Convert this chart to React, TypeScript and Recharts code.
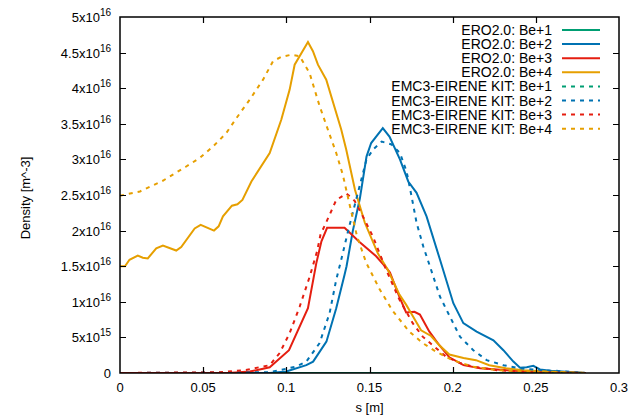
import React from 'react';
import { LineChart, Line, XAxis, YAxis, Customized } from 'recharts';

document.body.style.margin = '0';

// s [m] on x, density in units of 1e16 m^-3 on y
const sTicks = [0, 0.05, 0.1, 0.15, 0.2, 0.25, 0.3];
const densityTicks = [0, 0.5, 1, 1.5, 2, 2.5, 3, 3.5, 4, 4.5, 5];

const ero1S = [0, 0.05, 0.1, 0.15, 0.2, 0.25, 0.28];
const ero1N = [0, 0, 0, 0, 0, 0, 0];

const ero2S = [0, 0.09, 0.1, 0.112, 0.1161, 0.1241, 0.13, 0.135, 0.1362, 0.14, 0.1442, 0.1482, 0.151, 0.158, 0.162, 0.1683, 0.1733, 0.1783, 0.1843, 0.1924, 0.2004, 0.2064, 0.2144, 0.2245, 0.2305, 0.2365, 0.2405, 0.2445, 0.2485, 0.2525, 0.2586, 0.28];
const ero2N = [0, 0, 0.02, 0.11, 0.16, 0.44, 0.91, 1.38, 1.5, 2.0, 2.45, 3.04, 3.23, 3.44, 3.32, 3.0, 2.69, 2.53, 2.2, 1.59, 0.98, 0.7, 0.58, 0.46, 0.32, 0.16, 0.075, 0.08, 0.1, 0.05, 0.03, 0];

const ero3S = [0, 0.065, 0.078, 0.09, 0.1016, 0.113, 0.118, 0.1211, 0.1245, 0.135, 0.144, 0.154, 0.16, 0.1623, 0.168, 0.172, 0.177, 0.1803, 0.186, 0.192, 0.198, 0.2065, 0.2165, 0.2365, 0.26, 0.28];
const ero3N = [0, 0, 0.02, 0.08, 0.32, 0.91, 1.54, 1.85, 2.04, 2.04, 1.84, 1.64, 1.48, 1.41, 1.07, 0.85, 0.86, 0.82, 0.58, 0.39, 0.22, 0.11, 0.066, 0.03, 0.01, 0];

const ero4S = [0, 0.003, 0.0057, 0.0107, 0.0137, 0.0167, 0.0218, 0.0258, 0.0338, 0.0368, 0.0449, 0.0485, 0.0565, 0.0593, 0.0619, 0.0673, 0.0706, 0.0736, 0.079, 0.09, 0.097, 0.102, 0.105, 0.113, 0.116, 0.119, 0.124, 0.133, 0.136, 0.1413, 0.1472, 0.155, 0.161, 0.168, 0.172, 0.176, 0.181, 0.187, 0.192, 0.198, 0.2065, 0.214, 0.222, 0.232, 0.2425, 0.2566, 0.28];
const ero4N = [1.5, 1.5, 1.59, 1.65, 1.62, 1.61, 1.75, 1.79, 1.72, 1.77, 2.03, 2.08, 2.0, 2.06, 2.2, 2.35, 2.37, 2.43, 2.69, 3.09, 3.56, 3.98, 4.33, 4.65, 4.52, 4.33, 4.12, 3.42, 3.14, 2.57, 2.11, 1.68, 1.45, 1.1, 0.96, 0.8, 0.6, 0.52, 0.39, 0.26, 0.21, 0.18, 0.11, 0.066, 0.04, 0.02, 0];

const emc1S = [0, 0.05, 0.1, 0.15, 0.2, 0.25, 0.28];
const emc1N = [0, 0, 0, 0, 0, 0, 0];

const emc2S = [0, 0.09, 0.106, 0.112, 0.12, 0.126, 0.13, 0.1331, 0.1372, 0.1407, 0.1482, 0.1522, 0.1573, 0.1633, 0.1683, 0.1723, 0.1753, 0.1783, 0.1823, 0.1863, 0.1924, 0.1984, 0.2044, 0.2124, 0.2205, 0.2305, 0.2405, 0.2525, 0.2625, 0.28];
const emc2N = [0, 0.01, 0.09, 0.16, 0.42, 0.84, 1.31, 1.6, 2.0, 2.32, 3.0, 3.14, 3.25, 3.21, 3.09, 2.83, 2.48, 2.11, 1.78, 1.5, 1.07, 0.79, 0.51, 0.32, 0.18, 0.11, 0.066, 0.04, 0.03, 0];

const emc3S = [0, 0.06, 0.075, 0.09, 0.096, 0.102, 0.108, 0.114, 0.1185, 0.1205, 0.126, 0.13, 0.1362, 0.141, 0.146, 0.152, 0.16, 0.168, 0.176, 0.182, 0.188, 0.196, 0.2044, 0.2124, 0.2265, 0.25, 0.28];
const emc3N = [0, 0.01, 0.04, 0.11, 0.28, 0.56, 0.93, 1.35, 1.71, 1.94, 2.22, 2.43, 2.52, 2.42, 2.2, 1.92, 1.45, 1.03, 0.7, 0.51, 0.39, 0.23, 0.14, 0.09, 0.04, 0.01, 0];

const emc4S = [0, 0.012, 0.0257, 0.0398, 0.0479, 0.0559, 0.0639, 0.07, 0.078, 0.086, 0.092, 0.097, 0.103, 0.108, 0.114, 0.12, 0.126, 0.13, 0.134, 0.138, 0.1425, 0.148, 0.156, 0.164, 0.174, 0.182, 0.19, 0.2, 0.212, 0.2265, 0.2465, 0.28];
const emc4N = [2.49, 2.55, 2.7, 2.9, 3.02, 3.18, 3.37, 3.58, 3.84, 4.12, 4.38, 4.44, 4.47, 4.45, 4.21, 3.75, 3.35, 3.09, 2.78, 2.37, 1.92, 1.55, 1.18, 0.87, 0.58, 0.42, 0.3, 0.18, 0.09, 0.04, 0.02, 0];

const seriesNames = [
  'ERO2.0: Be+1', 'ERO2.0: Be+2', 'ERO2.0: Be+3', 'ERO2.0: Be+4',
  'EMC3-EIRENE KIT: Be+1', 'EMC3-EIRENE KIT: Be+2', 'EMC3-EIRENE KIT: Be+3', 'EMC3-EIRENE KIT: Be+4',
];
const seriesColors = ['#009e73', '#0072b2', '#e51e10', '#e69f00', '#009e73', '#0072b2', '#e51e10', '#e69f00'];
const seriesDashed = [false, false, false, false, true, true, true, true];

const toRows = (s: number[], n: number[]) => s.map((x, i) => ({ s: x, n: n[i] }));

const seriesData = [
  toRows(ero1S, ero1N), toRows(ero2S, ero2N), toRows(ero3S, ero3N), toRows(ero4S, ero4N),
  toRows(emc1S, emc1N), toRows(emc2S, emc2N), toRows(emc3S, emc3N), toRows(emc4S, emc4N),
];

const FONT = '"Liberation Sans", Arial, sans-serif';
const DASH = '4 5';

// chart geometry (same numbers feed the LineChart margins/axis sizes)
const W = 644;
const H = 417;
const M = { top: 17, right: 25, bottom: 0, left: 0 };
const Y_AXIS_W = 120;
const X_AXIS_H = 44;
const X_MAX = 0.3;
const Y_MAX = 5;
const plotL = M.left + Y_AXIS_W;
const plotR = W - M.right;
const plotT = M.top;
const plotB = H - M.bottom - X_AXIS_H;
const sx = (v: number) => plotL + (v / X_MAX) * (plotR - plotL);
const sy = (v: number) => plotB - (v / Y_MAX) * (plotB - plotT);
const TIC = 6;

const fmtS = (v: number) => (v === 0 ? '0' : String(+v.toFixed(2)));

const LeftTick = (props: any) => {
  const { x, y, payload } = props;
  const v = payload.value;
  let main = '0';
  let exp = '';
  if (v !== 0) {
    if (v < 1) { main = `${+(v * 10).toFixed(1)}x10`; exp = '15'; }
    else { main = `${v}x10`; exp = '16'; }
  }
  return (
    <text x={x - 9} y={y + 5} textAnchor="end" fontFamily={FONT} fontSize={13} fill="#000">
      {main}
      {exp && <tspan dy={-6} fontSize={10}>{exp}</tspan>}
    </text>
  );
};

const BottomTick = (props: any) => {
  const { x, y, payload } = props;
  return (
    <text x={x} y={y + 19} textAnchor="middle" fontFamily={FONT} fontSize={13} fill="#000">{fmtS(payload.value)}</text>
  );
};

const YTitle = (props: any) => {
  const vb = props.viewBox;
  const cx = vb.x + 25;
  const cy = vb.y + vb.height / 2 + 3;
  return (
    <text x={cx} y={cy} transform={`rotate(-90 ${cx} ${cy})`} textAnchor="middle" dominantBaseline="central"
      fontFamily={FONT} fontSize={13} fill="#000">
      Density [m^-3]
    </text>
  );
};

const XTitle = (props: any) => {
  const vb = props.viewBox;
  return (
    <text x={vb.x + vb.width / 2} y={vb.y + 39} textAnchor="middle" fontFamily={FONT} fontSize={13} fill="#000">
      s [m]
    </text>
  );
};

const LegendBox = () => (
  <g>
    {seriesNames.map((name, i) => {
      const cy = 30 + i * 14.1;
      return (
        <g key={name}>
          <text x={552} y={cy + 5} textAnchor="end" fontFamily={FONT} fontSize={14} fill="#000">{name}</text>
          <line x1={562} x2={600} y1={cy} y2={cy} stroke={seriesColors[i]} strokeWidth={2}
            strokeDasharray={seriesDashed[i] ? DASH : undefined} />
        </g>
      );
    })}
  </g>
);

// gnuplot-style border with inward tics on all four sides, as an SVG laid over the chart
const Frame = () => {
  const L = plotL;
  const R = plotR;
  const T = plotT;
  const B = plotB;
  let tics = '';
  sTicks.slice(1, -1).forEach((v) => {
    const x = Math.round(sx(v)) + 0.5;
    tics += `M${x},${B}v${-TIC}M${x},${T}v${TIC}`;
  });
  densityTicks.slice(1, -1).forEach((v) => {
    const y = Math.round(sy(v)) + 0.5;
    tics += `M${L},${y}h${TIC}M${R},${y}h${-TIC}`;
  });
  return (
    <svg width={W} height={H} style={{ position: 'absolute', left: 0, top: 0, pointerEvents: 'none' }}>
      <rect x={L} y={T} width={R - L} height={B - T} fill="none" stroke="#000" strokeWidth={1.5} />
      <path d={tics} fill="none" stroke="#000" strokeWidth={1.2} />
    </svg>
  );
};

export default function App() {
  return (
    <div style={{ position: 'relative', width: W, height: H, background: '#fff' }}>
      <LineChart width={W} height={H} margin={M}>
        <XAxis dataKey="s" type="number" domain={[0, X_MAX]} ticks={sTicks} interval={0}
          height={X_AXIS_H} tickSize={0} tickMargin={0} axisLine={false} tickLine={false}
          tick={<BottomTick />} allowDataOverflow label={<XTitle />} />
        <YAxis type="number" domain={[0, Y_MAX]} ticks={densityTicks} interval={0}
          width={Y_AXIS_W} tickSize={0} tickMargin={0} axisLine={false} tickLine={false}
          tick={<LeftTick />} allowDataOverflow label={<YTitle />} />
        {seriesData.map((rows, i) => (
          <Line key={seriesNames[i]} data={rows} dataKey="n" type="linear"
            stroke={seriesColors[i]} strokeWidth={2} dot={false} activeDot={false}
            strokeDasharray={seriesDashed[i] ? DASH : undefined} isAnimationActive={false} />
        ))}
        <Customized component={<LegendBox />} />
      </LineChart>
      <Frame />
    </div>
  );
}
